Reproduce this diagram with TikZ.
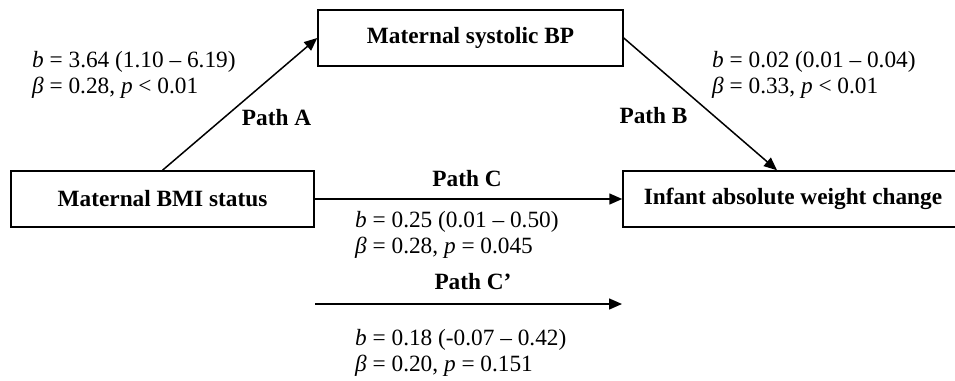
\documentclass[tikz,border=0pt]{standalone}
\usepackage{fontspec}
\setmainfont{Liberation Serif}
\usetikzlibrary{arrows.meta}
\begin{document}
\begin{tikzpicture}[x=1pt,y=-1pt,
  every node/.style={font=\fontsize{23.3}{26}\selectfont},
  box/.style={draw,line width=1.5pt,rectangle,inner sep=0pt,minimum height=56pt,font=\fontsize{23.3}{26}\selectfont\bfseries},
  conn/.style={line width=1.5pt,-{Triangle[length=13pt,width=11pt]}},
  lab/.style={anchor=base west,inner sep=0pt},
  plab/.style={anchor=base,inner sep=0pt,font=\fontsize{23.3}{26}\selectfont\bfseries}]
\useasboundingbox (0,0) rectangle (955,380);
\fill[white] (0,0) rectangle (955,380);
\node[box,minimum width=305pt] (sbp) at (470.5,38) {Maternal systolic BP};
\node[box,minimum width=303pt] (bmi) at (162.5,199) {Maternal BMI status};
\node[box,minimum width=340pt] (inf) at (793,199) {Infant absolute weight change};
\draw[conn] (bmi.north) -- (sbp.west);
\draw[conn] (sbp.east) -- ([xshift=-16pt]inf.north);
\draw[conn] (bmi.east) -- (inf.west);
\coordinate (cps) at (315,304);
\coordinate (cpe) at (622,304);
\draw[conn] (cps) -- (cpe);
\node[plab] (pa) at (276.5,125) {Path A};
\node[plab] (pb) at (653.5,123) {Path B};
\node[plab] (pc) at (467,186) {Path C};
\node[plab] (pcp) at (473,289) {Path C’};
\node[lab] (a1) at (32,67) {\textit{b} = 3.64 (1.10 – 6.19)};
\node[lab] (a2) at (32,93) {\textit{β} = 0.28, \textit{p} < 0.01};
\node[lab] (b1) at (712,67) {\textit{b} = 0.02 (0.01 – 0.04)};
\node[lab] (b2) at (712,93) {\textit{β} = 0.33, \textit{p} < 0.01};
\node[lab] (c1) at (355,227) {\textit{b} = 0.25 (0.01 – 0.50)};
\node[lab] (c2) at (355,253) {\textit{β} = 0.28, \textit{p} = 0.045};
\node[lab] (d1) at (355,345) {\textit{b} = 0.18 (-0.07 – 0.42)};
\node[lab] (d2) at (355,371) {\textit{β} = 0.20, \textit{p} = 0.151};
\end{tikzpicture}
\end{document}
